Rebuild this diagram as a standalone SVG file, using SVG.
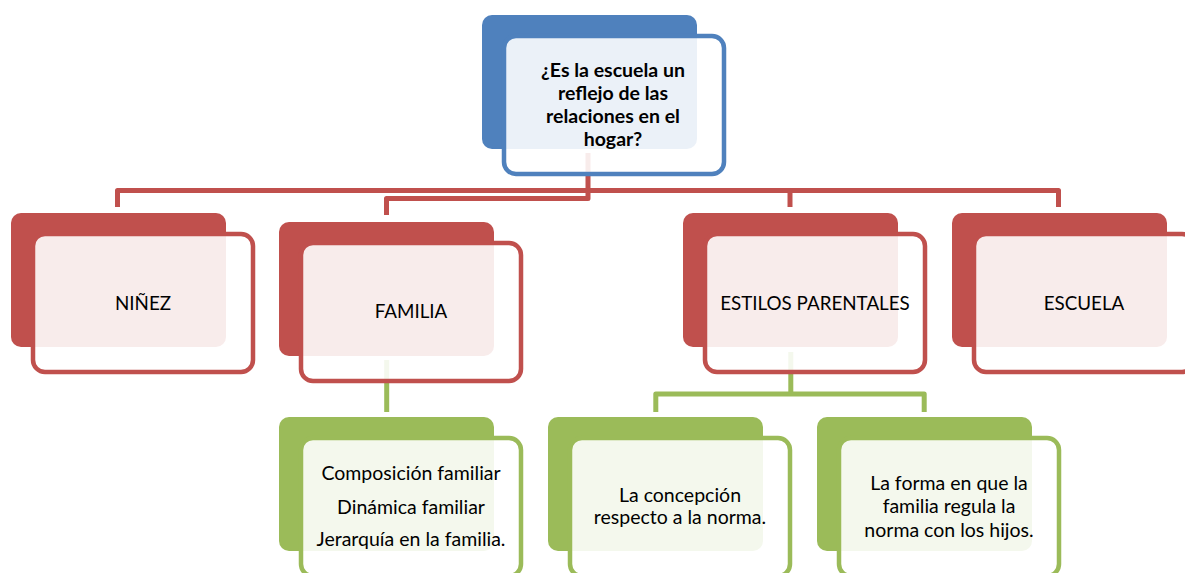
<svg xmlns="http://www.w3.org/2000/svg" width="1185" height="573" viewBox="0 0 1185 573">
<style>
.bg{fill:#fff}
.line{fill:none;stroke-width:5;stroke-linejoin:round;stroke-linecap:butt}
.red-l{stroke:#c0504d}
.green-l{stroke:#9bbb59}
.back{stroke:none}
.front{fill:#fff;fill-opacity:0.89;stroke-width:4.5}
.blue .back{fill:#4f81bd}
.blue .front{stroke:#4f81bd}
.red .back{fill:#c0504d}
.red .front{stroke:#c0504d}
.green .back{fill:#9bbb59}
.green .front{stroke:#9bbb59}
text{font-family:Lato,"Liberation Sans",sans-serif;font-size:19.5px;fill:#000;text-anchor:middle}
.title{font-weight:bold}
.red text{font-size:18.8px}
</style>
<rect class="bg" x="0" y="0" width="1185" height="573"/>
<g id="connectors">
  <path class="line red-l" d="M117.5 207 V190.5 H1058.5 V207"/>
  <path class="line red-l" d="M790 190.5 V207"/>
  <path class="line red-l" d="M588 153 V198.5 H386.5 V215"/>
  <path class="line green-l" d="M386.7 360 V412"/>
  <path class="line green-l" d="M790.8 352 V394"/>
  <path class="line green-l" d="M655.8 412 V394 H924.2 V412"/>
</g>
<g id="node-question" class="blue">
  <rect class="back" x="482" y="15" width="215" height="134" rx="10"/>
  <rect class="front" x="504" y="36" width="220" height="138" rx="12"/>
  <text class="title" x="613" y="77">¿Es la escuela un</text>
  <text class="title" x="613" y="100">reflejo de las</text>
  <text class="title" x="613" y="123">relaciones en el</text>
  <text class="title" x="613" y="146">hogar?</text>
</g>
<g id="node-ninez" class="red">
  <rect class="back" x="11" y="213" width="215" height="134" rx="10"/>
  <rect class="front" x="33" y="234" width="220" height="138" rx="12"/>
  <text x="143" y="310">NIÑEZ</text>
</g>
<g id="node-familia" class="red">
  <rect class="back" x="279" y="222" width="215" height="134" rx="10"/>
  <rect class="front" x="301" y="243" width="220" height="138" rx="12"/>
  <text x="411" y="318">FAMILIA</text>
</g>
<g id="node-estilos" class="red">
  <rect class="back" x="683" y="213" width="215" height="134" rx="10"/>
  <rect class="front" x="705" y="234" width="220" height="138" rx="12"/>
  <text x="815" y="310">ESTILOS PARENTALES</text>
</g>
<g id="node-escuela" class="red">
  <rect class="back" x="952" y="213" width="215" height="134" rx="10"/>
  <rect class="front" x="974" y="234" width="220" height="138" rx="12"/>
  <text x="1084" y="310">ESCUELA</text>
</g>
<g id="node-familia-detalle" class="green">
  <rect class="back" x="279" y="417" width="215" height="134" rx="10"/>
  <rect class="front" x="301" y="438" width="220" height="138" rx="12"/>
  <text x="411" y="480">Composición familiar</text>
  <text x="411" y="513.5">Dinámica familiar</text>
  <text x="411" y="546">Jerarquía en la familia.</text>
</g>
<g id="node-concepcion" class="green">
  <rect class="back" x="548" y="417" width="215" height="134" rx="10"/>
  <rect class="front" x="570" y="438" width="220" height="138" rx="12"/>
  <text x="680" y="501.5">La concepción</text>
  <text x="680" y="524">respecto a la norma.</text>
</g>
<g id="node-forma" class="green">
  <rect class="back" x="817" y="417" width="215" height="134" rx="10"/>
  <rect class="front" x="839" y="438" width="220" height="138" rx="12"/>
  <text x="949" y="490">La forma en que la</text>
  <text x="949" y="513.3">familia regula la</text>
  <text x="949" y="536.7">norma con los hijos.</text>
</g>
</svg>
